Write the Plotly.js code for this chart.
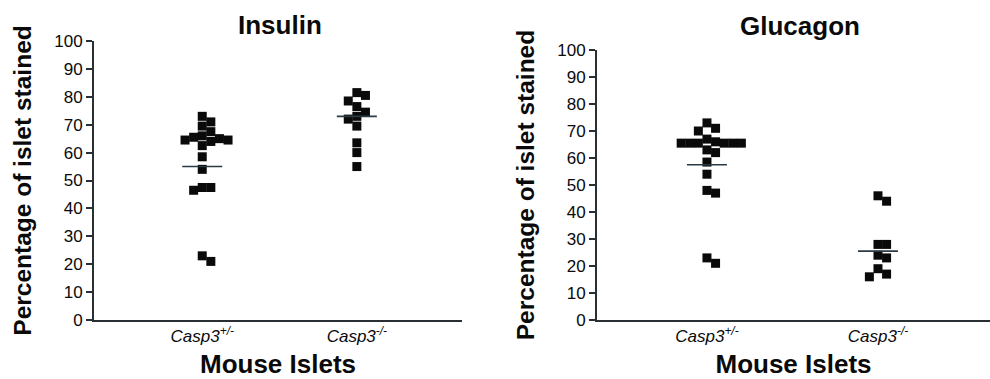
<!DOCTYPE html>
<html>
<head>
<meta charset="utf-8">
<script src="https://cdn.plot.ly/plotly-3.0.1.min.js"></script>
<style>html,body{margin:0;padding:0;background:#fff}#chart{width:990px;height:379px}</style>
</head>
<body>
<div id="chart"></div>
<script>
// ---- data ----
const categories = ['Casp3+/-', 'Casp3-/-'];
const tickLabels = ['<i>Casp3<sup>+/-</sup></i>', '<i>Casp3<sup>-/-</sup></i>'];
const panelTitles = ['Insulin', 'Glucagon'];

const insulinHet = [73, 71, 69.5, 67.5, 66, 65.5, 65, 64.5, 64.5, 64, 62.5, 58.5, 54, 47.5, 47.5, 46.5, 23, 21];
const insulinKO  = [81.5, 80.5, 78.5, 76.5, 74.5, 73, 72, 69.5, 63.5, 60, 55];
const insulinMeans = [55, 73];

const glucagonHet = [73, 71, 70, 67, 66, 65.5, 65.5, 65.5, 65.5, 65.5, 65.5, 63, 62, 58.5, 54, 48, 47, 23, 21];
const glucagonKO  = [46, 44, 28, 28, 24, 23, 19, 17, 16];
const glucagonMeans = [57.5, 25.5];

const yTickVals = [0, 10, 20, 30, 40, 50, 60, 70, 80, 90, 100];

// ---- layout constants ----
const W = 990, H = 379;
const panels = [
  {xdom: [94 / W, 462 / W], xrange: [-0.7, 1.68], ydom: [59 / H, 338 / H]},
  {xdom: [597 / W, 1], xrange: [-0.643, 1.655], ydom: [59 / H, 329 / H]}
];
const markerSize = 9, step = 8.6;
const ink = '#0a0a0a', axisColor = '#2a2f34', meanColor = '#2c3a44';
const fontFam = '"Liberation Sans", Arial, Helvetica, sans-serif';

// beeswarm offsets computed in pixel space, returned in x data units
function swarm(values, pxPerX, pxPerY) {
  const order = values.map((v, i) => i).sort((a, b) => values[b] - values[a]);
  const placed = [];
  const out = new Array(values.length).fill(0);
  for (const i of order) {
    const y = values[i] * pxPerY;
    const near = placed.filter(p => Math.abs(p.y - y) < step);
    const cands = [0];
    near.forEach(p => cands.push(p.dx + step, p.dx - step));
    cands.sort((a, b) => (Math.abs(a) - Math.abs(b)) || (b - a));
    let chosen = 0;
    for (const c of cands) {
      if (near.every(p => Math.abs(p.dx - c) >= step - 1e-6)) { chosen = c; break; }
    }
    placed.push({dx: chosen, y: y});
    out[i] = chosen / pxPerX;
  }
  return out;
}

const groups = [[insulinHet, insulinKO], [glucagonHet, glucagonKO]];
const means = [insulinMeans, glucagonMeans];
const traces = [];
panels.forEach((p, pi) => {
  const pxPerX = (p.xdom[1] - p.xdom[0]) * W / (p.xrange[1] - p.xrange[0]);
  const pxPerY = (p.ydom[1] - p.ydom[0]) * H / 100;
  const xa = pi === 0 ? 'x' : 'x2', ya = pi === 0 ? 'y' : 'y2';
  groups[pi].forEach((vals, ci) => {
    const offs = swarm(vals, pxPerX, pxPerY);
    traces.push({
      type: 'scatter', mode: 'markers', xaxis: xa, yaxis: ya,
      x: vals.map((v, k) => ci + offs[k]), y: vals,
      name: panelTitles[pi] + ' ' + categories[ci],
      marker: {symbol: 'square', size: markerSize, color: ink, line: {width: 0}},
      hoverinfo: 'y', cliponaxis: false
    });
    const half = 20 / pxPerX;
    traces.push({
      type: 'scatter', mode: 'lines', xaxis: xa, yaxis: ya,
      x: [ci - half, ci + half], y: [means[pi][ci], means[pi][ci]],
      line: {color: meanColor, width: 1.6}, hoverinfo: 'skip'
    });
  });
});

function xAxis(p, anchor) {
  return {
    domain: p.xdom, range: p.xrange, anchor: anchor,
    tickvals: [0, 1], ticktext: tickLabels, ticks: '',
    tickfont: {family: fontFam, size: 17, color: ink},
    showline: true, linecolor: axisColor, linewidth: 2,
    showgrid: false, zeroline: false, fixedrange: true,
    title: {text: 'Mouse Islets', font: {family: fontFam, size: 26, color: ink, weight: 'bold'}, standoff: 12}
  };
}
function yAxis(p, anchor) {
  return {
    domain: p.ydom, range: [0, 100], anchor: anchor,
    tickvals: yTickVals, ticks: 'outside', ticklen: 6, tickwidth: 2, tickcolor: axisColor,
    tickfont: {family: fontFam, size: 17, color: ink},
    showline: true, linecolor: axisColor, linewidth: 2,
    showgrid: false, zeroline: false, fixedrange: true,
    title: {text: 'Percentage of islet stained', font: {family: fontFam, size: 24.5, color: ink, weight: 'bold'}, standoff: 16}
  };
}

const layout = {
  width: W, height: H, margin: {l: 0, r: 0, t: 0, b: 0},
  paper_bgcolor: '#ffffff', plot_bgcolor: '#ffffff', showlegend: false,
  font: {family: fontFam, color: ink},
  xaxis: xAxis(panels[0], 'y'), yaxis: yAxis(panels[0], 'x'),
  xaxis2: xAxis(panels[1], 'y2'), yaxis2: yAxis(panels[1], 'x2'),
  annotations: [
    {text: panelTitles[0], xref: 'paper', yref: 'paper', x: 280 / W, y: 1 - 25 / H, xanchor: 'center', yanchor: 'middle', showarrow: false,
     font: {family: fontFam, size: 26, color: ink, weight: 'bold'}},
    {text: panelTitles[1], xref: 'paper', yref: 'paper', x: 800 / W, y: 1 - 26 / H, xanchor: 'center', yanchor: 'middle', showarrow: false,
     font: {family: fontFam, size: 26, color: ink, weight: 'bold'}}
  ]
};

Plotly.newPlot('chart', traces, layout, {displayModeBar: false, staticPlot: true});
</script>
</body>
</html>
